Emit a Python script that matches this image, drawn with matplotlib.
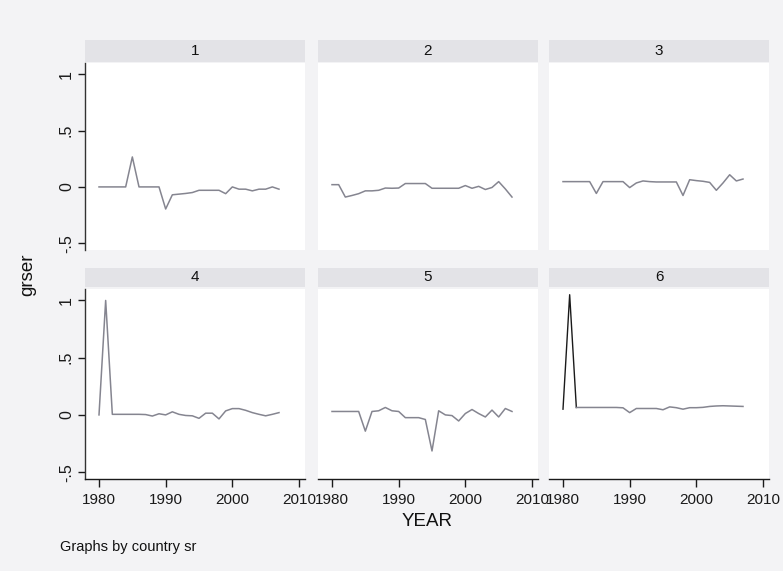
import matplotlib
matplotlib.use("Agg")
import matplotlib.pyplot as plt
from matplotlib.patches import Rectangle

plt.rcParams['font.family'] = ['Liberation Sans', 'DejaVu Sans']

years = list(range(1980, 2008))
panel_titles = ["1", "2", "3", "4", "5", "6"]

grser_1 = [0, 0, 0, 0, 0, 0.266, 0, 0, 0, 0, -0.196, -0.07, -0.064, -0.058, -0.05,
           -0.03, -0.03, -0.03, -0.03, -0.06, 0, -0.02, -0.02, -0.035, -0.02, -0.02, 0, -0.02]
grser_2 = [0.02, 0.02, -0.09, -0.076, -0.06, -0.035, -0.035, -0.03, -0.01, -0.012, -0.01,
           0.03, 0.03, 0.03, 0.03, -0.012, -0.012, -0.012, -0.012, -0.012, 0.012, -0.012,
           0.005, -0.023, -0.005, 0.047, -0.018, -0.09]
grser_3 = [0.047, 0.047, 0.047, 0.047, 0.047, -0.058, 0.047, 0.047, 0.047, 0.047, -0.006,
           0.035, 0.053, 0.047, 0.044, 0.044, 0.044, 0.044, -0.076, 0.064, 0.056, 0.05,
           0.04, -0.03, 0.035, 0.108, 0.053, 0.07]
grser_4 = [0, 1.0, 0.005, 0.005, 0.005, 0.005, 0.005, 0.003, -0.01, 0.01, 0.0, 0.027,
           0.005, -0.005, -0.008, -0.03, 0.015, 0.015, -0.035, 0.035, 0.055, 0.055, 0.04,
           0.02, 0.005, -0.008, 0.005, 0.02]
grser_5 = [0.03, 0.03, 0.03, 0.03, 0.03, -0.142, 0.03, 0.036, 0.065, 0.036, 0.03, -0.024,
           -0.024, -0.024, -0.04, -0.315, 0.036, 0.0, -0.006, -0.053, 0.012, 0.047, 0.012,
           -0.018, 0.042, -0.018, 0.056, 0.03]
grser_6 = [0.05, 1.05, 0.065, 0.065, 0.065, 0.065, 0.065, 0.065, 0.065, 0.062, 0.02, 0.056,
           0.056, 0.056, 0.056, 0.045, 0.07, 0.063, 0.05, 0.063, 0.063, 0.066, 0.074, 0.078,
           0.08, 0.078, 0.076, 0.074]
series = [grser_1, grser_2, grser_3, grser_4, grser_5, grser_6]

xticks = [1980, 1990, 2000, 2010]
yticks = [-0.5, 0, 0.5, 1]
ytick_labels = ["-.5", "0", ".5", "1"]

W, H = 783, 571
fig = plt.figure(figsize=(W / 100, H / 100), dpi=100)
fig.patch.set_facecolor('#f3f3f5')

cols = [(85, 305), (318, 538), (549, 769)]
rows = [(63, 250), (289, 479)]
strips = [(40, 62), (268, 287)]

line_color = '#858590'

for i in range(6):
    r, c = divmod(i, 3)
    x0, x1 = cols[c]
    top, bot = rows[r]
    ax = fig.add_axes([x0 / W, 1 - bot / H, (x1 - x0) / W, (bot - top) / H])
    ax.set_facecolor('white')
    ax.set_xlim(1977.9, 2010.9)
    ax.set_ylim(-0.56, 1.10)
    y = series[i]
    if i == 5:
        ax.plot(years[:3], y[:3], color='#1a1a1a', lw=1.0)
        ax.plot(years[2:], y[2:], color=line_color, lw=1.1)
    else:
        ax.plot(years, y, color=line_color, lw=1.1)
    for s in ['top', 'right']:
        ax.spines[s].set_visible(False)
    if c == 0:
        ax.spines['left'].set_color('#333333')
        ax.spines['left'].set_linewidth(1.0)
        ax.set_yticks(yticks)
        ax.set_yticklabels(ytick_labels, rotation=90, va='center', fontsize=11.5)
        ax.tick_params(axis='y', direction='out', length=5, width=1, pad=3, colors='#1a1a1a')
    else:
        ax.spines['left'].set_visible(False)
        ax.set_yticks([])
    if r == 1:
        ax.spines['bottom'].set_color('#1a1a1a')
        ax.spines['bottom'].set_linewidth(1.0)
        ax.set_xticks(xticks)
        ax.set_xticklabels([str(t) for t in xticks], fontsize=11)
        ax.tick_params(axis='x', direction='out', length=6, width=1, pad=4, colors='#1a1a1a')
    else:
        ax.spines['bottom'].set_visible(False)
        ax.set_xticks([])

    # strip header
    st, sb = strips[r]
    fig.patches.append(Rectangle((x0 / W, 1 - sb / H), (x1 - x0) / W, (sb - st) / H,
                                 transform=fig.transFigure, facecolor='#e3e3e7',
                                 edgecolor='none', zorder=0))
    fig.text((x0 + x1) / 2 / W, 1 - (st + sb) / 2 / H, panel_titles[i],
             ha='center', va='center', fontsize=11, color='#111111')

fig.text(427 / W, 1 - 522 / H, "YEAR", ha='center', va='center', fontsize=13.5, color='#111111')
fig.text(28 / W, 1 - 275 / H, "grser", ha='center', va='center', rotation=90,
         fontsize=13.5, color='#111111')
fig.text(60 / W, 1 - 547 / H, "Graphs by country sr", ha='left', va='center',
         fontsize=10.5, color='#111111')

fig.savefig("out.png", dpi=100, facecolor=fig.get_facecolor())
